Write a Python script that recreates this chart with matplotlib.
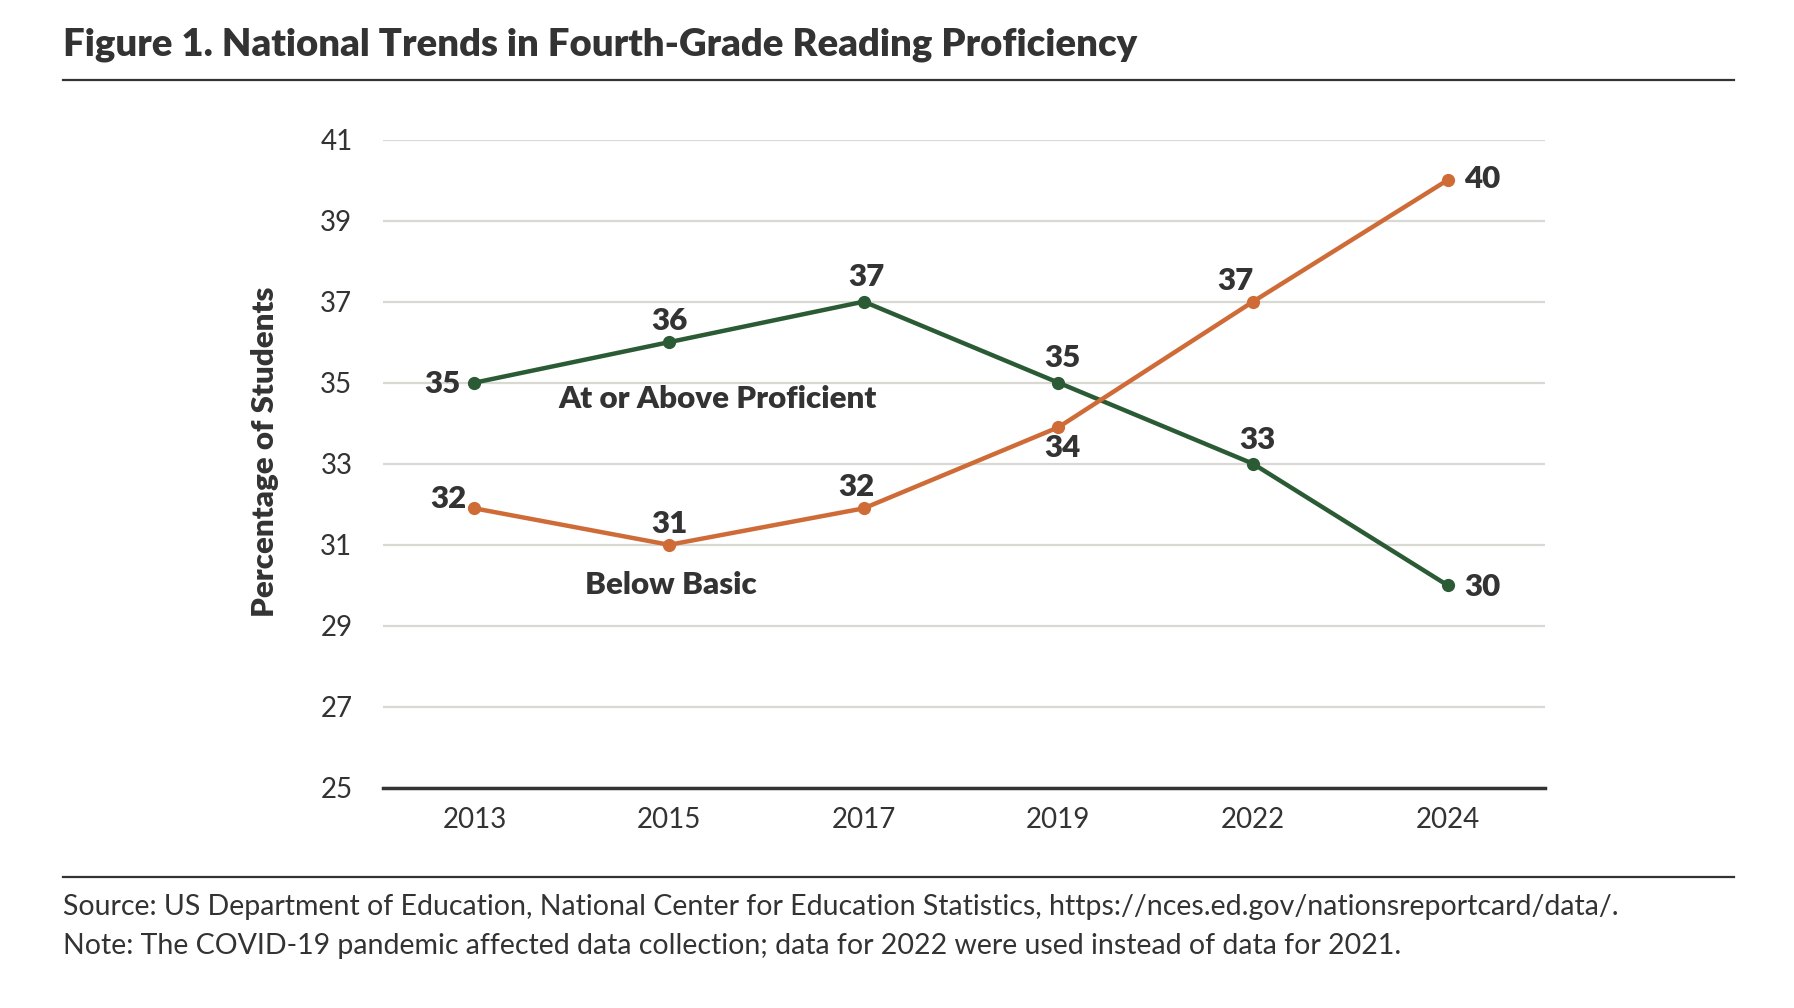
import matplotlib
matplotlib.use("Agg")
import matplotlib.pyplot as plt
from matplotlib.lines import Line2D

plt.rcParams['font.family'] = ['Lato', 'DejaVu Sans']

years = ["2013", "2015", "2017", "2019", "2022", "2024"]
proficient = [35, 36, 37, 35, 33, 30]
below_basic = [31.9, 31.0, 31.9, 33.9, 37.0, 40.0]
y_ticks = [25, 27, 29, 31, 33, 35, 37, 39, 41]

title = "Figure 1. National Trends in Fourth-Grade Reading Proficiency"
ylabel = "Percentage of Students"
source = "Source: US Department of Education, National Center for Education Statistics, https://nces.ed.gov/nationsreportcard/data/."
note = "Note: The COVID-19 pandemic affected data collection; data for 2022 were used instead of data for 2021."

GREEN = "#2b5b35"
ORANGE = "#cf6b37"
TEXT = "#333333"
GRID = "#d9d9d3"

W, H = 1794, 1008
fig = plt.figure(figsize=(W / 100, H / 100), dpi=100)
fig.patch.set_facecolor("white")

ax = fig.add_axes([383 / W, 1 - 788 / H, (1545 - 383) / W, (788 - 139.5) / H])
x = list(range(len(years)))

ax.plot(x, proficient, color=GREEN, lw=3.2, marker="o", ms=8.5, zorder=3, solid_capstyle="round")
ax.plot(x, below_basic, color=ORANGE, lw=3.2, marker="o", ms=8.5, zorder=3, solid_capstyle="round")

ax.set_xlim(-0.47, 5.5)
ax.set_ylim(25, 41)
ax.set_yticks(y_ticks)
ax.set_xticks(x)
ax.set_xticklabels(years)
ax.yaxis.grid(True, color=GRID, lw=1.6)
ax.set_axisbelow(True)
for s in ["top", "right", "left"]:
    ax.spines[s].set_visible(False)
ax.spines["bottom"].set_color(TEXT)
ax.spines["bottom"].set_linewidth(2.5)
ax.tick_params(axis="both", length=0, labelsize=20, labelcolor=TEXT)
ax.tick_params(axis="y", pad=22)
ax.tick_params(axis="x", pad=14)

BOLD = 22.5
lab_kw = dict(fontsize=BOLD, fontweight="heavy", color=TEXT, textcoords="offset points")

prof_pos = [("right", "center", (-10, -1)),
            ("center", "bottom", (0, 5)),
            ("center", "bottom", (2, 8)),
            ("center", "bottom", (3, 8)),
            ("center", "bottom", (3, 7)),
            ("left", "center", (12, -1))]
for xi, v, (ha, va, off) in zip(x, proficient, prof_pos):
    ax.annotate(f"{round(v)}", (xi, v), xytext=off, ha=ha, va=va, **lab_kw)

bb_pos = [("right", "bottom", (-6, -3)),
          ("center", "bottom", (0, 5)),
          ("center", "bottom", (-5, 5)),
          ("center", "top", (3, -5)),
          ("center", "bottom", (-13, 5)),
          ("left", "center", (12, 1))]
for xi, v, (ha, va, off) in zip(x, below_basic, bb_pos):
    ax.annotate(f"{round(v)}", (xi, v), xytext=off, ha=ha, va=va, **lab_kw)

ax.text(1.247, 34.6, "At or Above Proficient", ha="center", va="center",
        fontsize=BOLD, fontweight="heavy", color=TEXT)
ax.text(1.01, 30.0, "Below Basic", ha="center", va="center",
        fontsize=BOLD, fontweight="heavy", color=TEXT)

fig.text(265 / W, 1 - 452 / H, ylabel, rotation=90, ha="center", va="center",
         fontsize=BOLD, fontweight="heavy", color=TEXT)

fig.text(63 / W, 1 - 55 / H, title, ha="left", va="baseline",
         fontsize=27.5, fontweight="heavy", color=TEXT)

fig.add_artist(Line2D([63 / W, 1734 / W], [1 - 80 / H, 1 - 80 / H], color=TEXT, lw=1.6))
fig.add_artist(Line2D([63 / W, 1734 / W], [1 - 877 / H, 1 - 877 / H], color=TEXT, lw=1.6))

fig.text(63 / W, 1 - 915 / H, source, ha="left", va="baseline",
         fontsize=20.5, fontweight="normal", color=TEXT)
fig.text(63 / W, 1 - 954 / H, note, ha="left", va="baseline",
         fontsize=20.5, fontweight="normal", color=TEXT)

fig.savefig("out.png", dpi=100, facecolor="white")
